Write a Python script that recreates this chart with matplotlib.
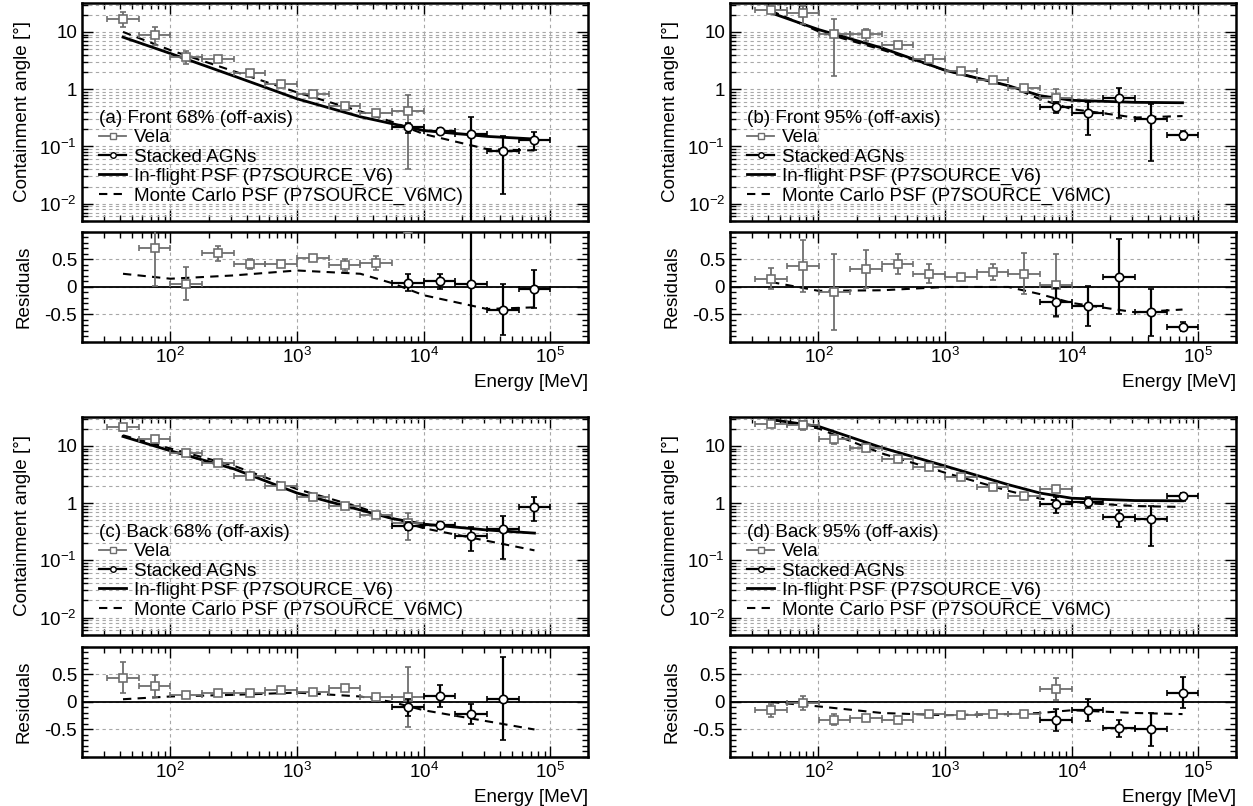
import matplotlib
matplotlib.use("Agg")
import matplotlib.pyplot as plt
import numpy as np
from matplotlib.lines import Line2D
from matplotlib.ticker import FixedLocator, FixedFormatter, LogLocator, MultipleLocator, NullFormatter, LogFormatterMathtext

plt.rcParams['font.family'] = ['Liberation Sans', 'DejaVu Sans']
plt.rcParams['mathtext.fontset'] = 'custom'
plt.rcParams['mathtext.rm'] = 'Liberation Sans'
plt.rcParams['mathtext.it'] = 'Liberation Sans:italic'
plt.rcParams['mathtext.bf'] = 'Liberation Sans:bold'

# bin centres (quarter-decade bins)
E_VELA = [42.2, 75.0, 133.4, 237.1, 421.7, 749.9, 1333.5, 2371.4, 4217.0, 7498.9]
E_AGN = [7498.9, 13335.2, 23713.7, 42169.7, 74989.4]
E_CURVE = [42.2, 100.0, 316.2, 1000.0, 3162.3, 5623.4, 10000.0, 31622.8, 74989.4]

# (a) Front 68%
VELA_A = [17.1, 9.0, 3.66, 3.42, 1.95, 1.22, 0.82, 0.51, 0.38, 0.42]
VELA_A_ERR = [4.8, 3.1, 0.9, 0.3, 0.15, 0.1, 0.05, 0.05, 0.04, 0.38]
AGN_A = [0.215, 0.19, 0.162, 0.085, 0.131]
AGN_A_ERR = [0.04, 0.02, 0.17, 0.07, 0.045]
INFLIGHT_A = [8.1, 4.2, 1.7, 0.68, 0.33, 0.25, 0.19, 0.15, 0.135]
MC_A = [10.0, 4.8, 2.06, 0.88, 0.41, 0.27, 0.165, 0.09, 0.085]
VELA_RES_A = [1.10, 0.70, 0.06, 0.61, 0.42, 0.42, 0.52, 0.40, 0.43, 1.05]
VELA_RES_A_ERR = [0.05, 0.68, 0.30, 0.14, 0.09, 0.03, 0.03, 0.11, 0.13, 0.04]
AGN_RES_A = [0.08, 0.10, 0.06, -0.41, -0.04]
AGN_RES_A_ERR = [0.16, 0.14, 1.2, 0.47, 0.35]
MC_RES_A = [0.24, 0.15, 0.21, 0.30, 0.24, 0.07, -0.15, -0.40, -0.37]

# (b) Front 95%
VELA_B = [23.9, 21.0, 9.2, 9.2, 6.0, 3.3, 2.05, 1.43, 1.05, 0.70]
VELA_B_ERR = [2.0, 7.0, 7.5, 2.2, 0.6, 0.25, 0.12, 0.1, 0.15, 0.3]
AGN_B = [0.49, 0.38, 0.69, 0.305, 0.16]
AGN_B_ERR = [0.10, 0.22, 0.38, 0.25, 0.03]
INFLIGHT_B = [21.5, 11.0, 5.25, 2.14, 1.15, 0.77, 0.64, 0.59, 0.58]
MC_B = [23.4, 10.2, 4.9, 2.14, 1.15, 0.67, 0.45, 0.32, 0.34]
VELA_RES_B = [0.15, 0.38, -0.09, 0.33, 0.42, 0.24, 0.18, 0.27, 0.24, 0.03]
VELA_RES_B_ERR = [0.19, 0.47, 0.69, 0.34, 0.18, 0.17, 0.05, 0.15, 0.37, 0.57]
AGN_RES_B = [-0.27, -0.35, 0.19, -0.46, -0.72]
AGN_RES_B_ERR = [0.25, 0.36, 0.68, 0.43, 0.08]
MC_RES_B = [0.09, -0.07, -0.06, 0.0, 0.0, -0.13, -0.29, -0.46, -0.41]

# (c) Back 68%
VELA_C = [21.0, 13.1, 7.6, 4.94, 3.04, 2.02, 1.30, 0.90, 0.62, 0.457]
VELA_C_ERR = [3.0, 2.0, 0.6, 0.4, 0.2, 0.1, 0.07, 0.05, 0.04, 0.23]
AGN_C = [0.40, 0.41, 0.265, 0.347, 0.87]
AGN_C_ERR = [0.06, 0.05, 0.12, 0.24, 0.39]
INFLIGHT_C = [14.6, 8.2, 3.98, 1.50, 0.76, 0.54, 0.43, 0.34, 0.30]
MC_C = [15.3, 9.0, 4.5, 1.76, 0.84, 0.54, 0.365, 0.22, 0.15]
VELA_RES_C = [0.44, 0.29, 0.13, 0.16, 0.16, 0.22, 0.18, 0.25, 0.09, 0.09]
VELA_RES_C_ERR = [0.28, 0.2, 0.06, 0.03, 0.03, 0.03, 0.03, 0.05, 0.05, 0.55]
AGN_RES_C = [-0.10, 0.10, -0.22, 0.06, 1.9]
AGN_RES_C_ERR = [0.15, 0.2, 0.18, 0.75, 0.8]
MC_RES_C = [0.05, 0.10, 0.13, 0.17, 0.10, 0.0, -0.15, -0.35, -0.50]

# (d) Back 95%
VELA_D = [24.0, 23.0, 13.1, 9.3, 5.8, 4.3, 2.88, 1.92, 1.36, 1.77]
VELA_D_ERR = [3.0, 4.0, 2.5, 0.9, 0.5, 0.3, 0.2, 0.1, 0.08, 0.2]
AGN_D = [0.96, 1.04, 0.58, 0.53, 1.31]
AGN_D_ERR = [0.3, 0.22, 0.19, 0.35, 0.2]
INFLIGHT_D = [28.8, 21.9, 9.3, 4.45, 2.1, 1.5, 1.22, 1.11, 1.10]
MC_D = [28.8, 20.1, 7.4, 3.4, 1.64, 1.2, 1.04, 0.89, 0.86]
VELA_RES_D = [-0.15, -0.02, -0.32, -0.30, -0.33, -0.22, -0.23, -0.22, -0.22, 0.23]
VELA_RES_D_ERR = [0.12, 0.12, 0.10, 0.05, 0.05, 0.03, 0.03, 0.03, 0.03, 0.20]
AGN_RES_D = [-0.33, -0.15, -0.48, -0.50, 0.17]
AGN_RES_D_ERR = [0.20, 0.20, 0.15, 0.30, 0.28]
MC_RES_D = [0.0, -0.08, -0.20, -0.24, -0.22, -0.20, -0.15, -0.20, -0.22]

TITLES = ["(a) Front 68% (off-axis)", "(b) Front 95% (off-axis)",
          "(c) Back 68% (off-axis)", "(d) Back 95% (off-axis)"]

GRAY = '#6e6e6e'
GRID = '#a8a8a8'
FS = 13.6
HALF_BIN = 0.125  # log10 half width of the energy bins


def bin_xerr(e):
    e = np.asarray(e)
    return [e * (1 - 10 ** -HALF_BIN), e * (10 ** HALF_BIN - 1)]


def style_common(ax):
    ax.set_xscale('log')
    ax.set_xlim(20, 2e5)
    ax.xaxis.set_major_locator(LogLocator(base=10, numticks=12))
    ax.xaxis.set_minor_locator(LogLocator(base=10, subs=np.arange(2, 10), numticks=12))
    ax.tick_params(which='both', direction='in', top=True, right=True, width=1.0, labelsize=FS)
    ax.tick_params(which='major', length=8)
    ax.tick_params(which='minor', length=4)
    for s in ax.spines.values():
        s.set_linewidth(1.8)
    ax.grid(True, which='major', axis='x', color=GRID, ls=(0, (3, 3)), lw=0.8)


def draw_points(ax, vela, vela_err, agn, agn_err):
    ax.errorbar(E_VELA, vela, xerr=bin_xerr(E_VELA), yerr=vela_err, fmt='s', ms=6,
                mfc='white', mec=GRAY, mew=1.2, ecolor=GRAY, elinewidth=1.3,
                capsize=2, capthick=1.3, zorder=4)
    ax.errorbar(E_AGN, agn, xerr=bin_xerr(E_AGN), yerr=agn_err, fmt='o', ms=6,
                mfc='white', mec='black', mew=1.2, ecolor='black', elinewidth=1.6,
                capsize=2, capthick=1.6, zorder=5)


def draw_top(ax, vela, vela_err, agn, agn_err, inflight, mc, title):
    style_common(ax)
    ax.set_yscale('log', nonpositive='clip')
    ax.set_ylim(0.005, 32)
    ax.yaxis.set_major_locator(FixedLocator([0.01, 0.1, 1, 10]))
    ax.yaxis.set_major_formatter(FixedFormatter(['$10^{-2}$', '$10^{-1}$', '1', '10']))
    ax.yaxis.set_minor_locator(LogLocator(base=10, subs=np.arange(2, 10), numticks=12))
    ax.yaxis.set_minor_formatter(NullFormatter())
    ax.grid(True, which='both', axis='y', color=GRID, ls=(0, (3, 3)), lw=0.8)
    ax.tick_params(labelbottom=False)
    ax.plot(E_CURVE, inflight, color='black', lw=2.0, zorder=3)
    ax.plot(E_CURVE, mc, color='black', lw=1.5, ls=(0, (4, 3)), zorder=3)
    draw_points(ax, vela, vela_err, agn, agn_err)
    ax.set_ylabel('Containment angle [°]', fontsize=FS)
    ax.yaxis.set_label_coords(-0.100, 0.5)

    handles = [
        Line2D([], [], color=GRAY, lw=1.3, marker='s', ms=5, mfc='white', mec=GRAY),
        Line2D([], [], color='black', lw=1.6, marker='o', ms=4, mfc='white', mec='black'),
        Line2D([], [], color='black', lw=2.0),
        Line2D([], [], color='black', lw=1.5, ls=(0, (4, 3))),
    ]
    labels = ['Vela', 'Stacked AGNs', 'In-flight PSF (P7SOURCE_V6)',
              'Monte Carlo PSF (P7SOURCE_V6MC)']
    leg = ax.legend(handles, labels, title=title, loc='upper left',
                    bbox_to_anchor=(0.028, 0.522), frameon=False, fontsize=FS,
                    title_fontsize=FS, handlelength=1.45, handletextpad=0.4,
                    labelspacing=0.11, borderpad=0.15, borderaxespad=0,
                    alignment='left')
    leg.set_zorder(6)


def draw_res(ax, vela_res, vela_res_err, agn_res, agn_res_err, mc_res):
    style_common(ax)
    ax.set_ylim(-1, 1)
    ax.yaxis.set_major_locator(FixedLocator([-0.5, 0, 0.5]))
    ax.yaxis.set_major_formatter(FixedFormatter(['-0.5', '0', '0.5']))
    ax.yaxis.set_minor_locator(MultipleLocator(0.1))
    ax.xaxis.set_major_formatter(LogFormatterMathtext())
    ax.grid(True, which='major', axis='y', color=GRID, ls=(0, (3, 3)), lw=0.8)
    ax.axhline(0, color='black', lw=1.3, zorder=2)
    ax.plot(E_CURVE, mc_res, color='black', lw=1.5, ls=(0, (4, 3)), zorder=3)
    draw_points(ax, vela_res, vela_res_err, agn_res, agn_res_err)
    ax.set_ylabel('Residuals', fontsize=FS)
    ax.yaxis.set_label_coords(-0.098, 0.5)
    ax.set_xlabel('Energy [MeV]', fontsize=FS, loc='right', labelpad=5)


fig = plt.figure(figsize=(12.53, 8.06), dpi=100)

col_left = [0.0654, 0.5826]
top_bottom = [0.7258, 0.2122]
res_bottom = [0.5757, 0.0608]
width = 0.4042
top_h = 0.2705
res_h = 0.1365

panels = [
    (VELA_A, VELA_A_ERR, AGN_A, AGN_A_ERR, INFLIGHT_A, MC_A,
     VELA_RES_A, VELA_RES_A_ERR, AGN_RES_A, AGN_RES_A_ERR, MC_RES_A),
    (VELA_B, VELA_B_ERR, AGN_B, AGN_B_ERR, INFLIGHT_B, MC_B,
     VELA_RES_B, VELA_RES_B_ERR, AGN_RES_B, AGN_RES_B_ERR, MC_RES_B),
    (VELA_C, VELA_C_ERR, AGN_C, AGN_C_ERR, INFLIGHT_C, MC_C,
     VELA_RES_C, VELA_RES_C_ERR, AGN_RES_C, AGN_RES_C_ERR, MC_RES_C),
    (VELA_D, VELA_D_ERR, AGN_D, AGN_D_ERR, INFLIGHT_D, MC_D,
     VELA_RES_D, VELA_RES_D_ERR, AGN_RES_D, AGN_RES_D_ERR, MC_RES_D),
]

for i, p in enumerate(panels):
    row, col = divmod(i, 2)
    ax_top = fig.add_axes([col_left[col], top_bottom[row], width, top_h])
    ax_res = fig.add_axes([col_left[col], res_bottom[row], width, res_h])
    draw_top(ax_top, *p[:6], TITLES[i])
    draw_res(ax_res, *p[6:])

fig.savefig('out.png', dpi=100)
